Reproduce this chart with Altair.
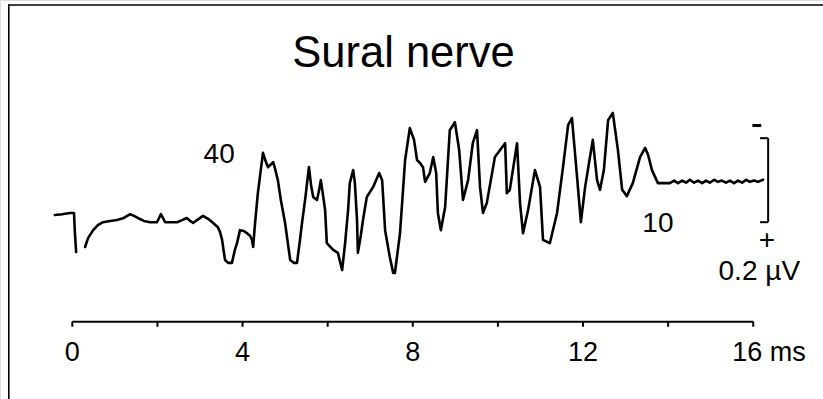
import altair as alt
import pandas as pd

# ---- trace data: time (ms) and amplitude (µV, upward = negative polarity) ----
pre_t = [-0.41, -0.24, -0.05, 0.04, 0.06, 0.09]
pre_v = [-0.081, -0.079, -0.076, -0.076, -0.121, -0.169]

main_t = [0.30, 0.37, 0.49, 0.60, 0.72, 0.89, 1.05, 1.21, 1.36, 1.45, 1.54, 1.68, 1.83, 1.99,
          2.04, 2.08, 2.13, 2.18, 2.32, 2.46, 2.58, 2.69, 2.77, 2.84, 2.93, 3.07, 3.19, 3.31,
          3.42, 3.47, 3.52, 3.56, 3.59, 3.66, 3.75, 3.82, 3.87, 3.94, 4.03, 4.10, 4.18, 4.22,
          4.25, 4.29, 4.36, 4.48, 4.55, 4.60, 4.72, 4.76, 4.83, 4.90, 5.00, 5.07, 5.12, 5.21,
          5.28, 5.35, 5.40, 5.47, 5.56, 5.61, 5.66, 5.75, 5.80, 5.84, 5.89, 5.94, 5.98, 6.13,
          6.24, 6.34, 6.41, 6.48, 6.52, 6.60, 6.64, 6.69, 6.71, 6.78, 6.83, 6.92, 7.07, 7.21,
          7.28, 7.35, 7.46, 7.54, 7.58, 7.70, 7.82, 7.93, 8.03, 8.10, 8.17, 8.24, 8.29, 8.40,
          8.48, 8.55, 8.59, 8.66, 8.76, 8.87, 8.99, 9.09, 9.18, 9.30, 9.41, 9.51, 9.58, 9.65,
          9.74, 9.93, 10.17, 10.21, 10.28, 10.45, 10.52, 10.59, 10.71, 10.87, 10.99, 11.06,
          11.22, 11.39, 11.53, 11.65, 11.74, 11.86, 11.95, 12.05, 12.16, 12.23, 12.33, 12.40,
          12.49, 12.59, 12.70, 12.82, 12.92, 13.03, 13.17, 13.34, 13.46, 13.53, 13.62, 13.76,
          13.90, 14.04, 14.14, 14.23, 14.33, 14.42, 14.51, 14.61, 14.70, 14.80, 14.89, 14.98,
          15.08, 15.17, 15.26, 15.36, 15.45, 15.55, 15.64, 15.74, 15.83, 15.92, 16.02, 16.11,
          16.23]
main_v = [-0.157, -0.136, -0.117, -0.105, -0.098, -0.095, -0.093, -0.088, -0.079, -0.083,
          -0.088, -0.095, -0.098, -0.098, -0.088, -0.079, -0.088, -0.098, -0.098, -0.098,
          -0.093, -0.088, -0.095, -0.100, -0.093, -0.083, -0.090, -0.100, -0.110, -0.121,
          -0.140, -0.169, -0.188, -0.195, -0.195, -0.164, -0.148, -0.117, -0.119, -0.124,
          -0.131, -0.140, -0.157, -0.105, -0.029, 0.067, 0.045, 0.033, 0.045, 0.031, 0.002,
          -0.045, -0.100, -0.152, -0.188, -0.195, -0.195, -0.140, -0.098, -0.045, 0.033,
          -0.010, -0.038, -0.045, -0.021, 0.002, -0.033, -0.069, -0.148, -0.164, -0.171,
          -0.212, -0.148, -0.069, -0.005, 0.026, -0.005, -0.093, -0.171, -0.129, -0.093,
          -0.038, -0.014, 0.019, 0.002, -0.117, -0.181, -0.219, -0.219, -0.124, 0.050, 0.126,
          0.098, 0.050, 0.043, 0.033, -0.002, 0.019, 0.057, 0.019, -0.076, -0.117, -0.062,
          0.121, 0.140, 0.074, -0.045, 0.002, 0.090, 0.121, -0.014, -0.076, -0.052, 0.057,
          0.090, -0.029, -0.021, 0.090, -0.052, -0.124, -0.069, 0.026, -0.014, -0.140, -0.148,
          -0.076, 0.033, 0.133, 0.150, 0.010, -0.098, -0.014, 0.055, 0.098, 0.002, -0.021,
          0.026, 0.145, 0.162, 0.074, -0.021, -0.036, -0.005, 0.057, 0.079, 0.062, 0.026,
          -0.005, -0.005, -0.005, 0.001, -0.005, 0.001, -0.004, 0.003, -0.004, 0.001, -0.005,
          0.001, -0.004, 0.003, -0.002, 0.001, -0.004, 0.001, -0.005, 0.001, -0.004, 0.003,
          -0.002, 0.001, -0.002, 0.003]

# ---- axis ----
tick_ms = [0, 2, 4, 6, 8, 10, 12, 14, 16]
label_ms = [0, 4, 8, 12]
label_txt = ["0", "4", "8", "12"]
last_label_ms = [16]
last_label_txt = ["16 ms"]

# ---- calibration bar (0.2 µV) and annotations ----
bar_bottom, bar_top = -0.098, 0.102
bar_t = 16.35
bar_tick_t = 16.16
title_txt = "Sural nerve"

F = "Liberation Sans"
xs = alt.Scale(domain=[-1.699, 17.639], nice=False, zero=False)
ys = alt.Scale(domain=[-0.519, 0.431], nice=False, zero=False)

trace = pd.DataFrame({
    "t": pre_t + main_t,
    "v": pre_v + main_v,
    "seg": ["a"] * len(pre_t) + ["b"] * len(main_t),
})

line = alt.Chart(trace).mark_line(color="black", strokeWidth=2.6, strokeJoin="round",
                                  strokeCap="round").encode(
    x=alt.X("t:Q", scale=xs, axis=None),
    y=alt.Y("v:Q", scale=ys, axis=None),
    detail="seg:N",
)

axis_y = -0.335
axis_df = pd.DataFrame({"t0": [0], "t1": [16], "v": [axis_y]})
axis_line = alt.Chart(axis_df).mark_rule(color="black", strokeWidth=2).encode(
    x=alt.X("t0:Q", scale=xs, axis=None), x2="t1:Q",
    y=alt.Y("v:Q", scale=ys, axis=None),
)
ticks_df = pd.DataFrame({"t": tick_ms, "v0": [axis_y] * len(tick_ms), "v1": [-0.347] * len(tick_ms)})
ticks = alt.Chart(ticks_df).mark_rule(color="black", strokeWidth=2).encode(
    x=alt.X("t:Q", scale=xs, axis=None),
    y=alt.Y("v0:Q", scale=ys, axis=None), y2="v1:Q",
)
lab_df = pd.DataFrame({"t": label_ms, "txt": label_txt, "v": [-0.429] * len(label_ms)})
labels = alt.Chart(lab_df).mark_text(font=F, fontSize=27, align="center", baseline="alphabetic",
                                     color="black").encode(
    x=alt.X("t:Q", scale=xs, axis=None),
    y=alt.Y("v:Q", scale=ys, axis=None),
    text="txt:N",
)
last_df = pd.DataFrame({"t": last_label_ms, "txt": last_label_txt, "v": [-0.429]})
last_lab = alt.Chart(last_df).mark_text(font=F, fontSize=27, align="left", baseline="alphabetic",
                                        dx=-21, color="black").encode(
    x=alt.X("t:Q", scale=xs, axis=None),
    y=alt.Y("v:Q", scale=ys, axis=None),
    text="txt:N",
)

bar_df = pd.DataFrame({"t": [bar_t], "v0": [bar_bottom], "v1": [bar_top]})
bar = alt.Chart(bar_df).mark_rule(color="black", strokeWidth=2).encode(
    x=alt.X("t:Q", scale=xs, axis=None),
    y=alt.Y("v0:Q", scale=ys, axis=None), y2="v1:Q",
)
bar_ends_df = pd.DataFrame({"t0": [bar_tick_t, bar_tick_t], "t1": [bar_t, bar_t], "v": [bar_bottom, bar_top]})
bar_ends = alt.Chart(bar_ends_df).mark_rule(color="black", strokeWidth=2).encode(
    x=alt.X("t0:Q", scale=xs, axis=None), x2="t1:Q",
    y=alt.Y("v:Q", scale=ys, axis=None),
)

ann_df = pd.DataFrame({
    "t": [3.45, 13.76, 16.32],
    "v": [0.043, -0.121, -0.161],
    "txt": ["40", "10", "+"],
})
ann = alt.Chart(ann_df).mark_text(font=F, fontSize=28, align="center", baseline="alphabetic",
                                  color="black").encode(
    x=alt.X("t:Q", scale=xs, axis=None),
    y=alt.Y("v:Q", scale=ys, axis=None),
    text="txt:N",
)
minus_df = pd.DataFrame({"t": [16.08], "v": [0.110], "txt": ["-"]})
minus = alt.Chart(minus_df).mark_text(font=F, fontSize=36, align="center", baseline="alphabetic",
                                      color="black").encode(
    x=alt.X("t:Q", scale=xs, axis=None),
    y=alt.Y("v:Q", scale=ys, axis=None),
    text="txt:N",
)
unit_df = pd.DataFrame({"t": [17.10], "v": [-0.236], "txt": ["0.2 µV"]})
unit = alt.Chart(unit_df).mark_text(font=F, fontSize=28, align="right", baseline="alphabetic",
                                    color="black").encode(
    x=alt.X("t:Q", scale=xs, axis=None),
    y=alt.Y("v:Q", scale=ys, axis=None),
    text="txt:N",
)

title_df = pd.DataFrame({"txt": [title_txt]})
title = alt.Chart(title_df).mark_text(font=F, fontSize=43.5, align="center", baseline="alphabetic",
                                      color="black").encode(
    x=alt.value(403.5), y=alt.value(66.7), text="txt:N",
)

frame_df = pd.DataFrame({"k": [0]})
frame_top = alt.Chart(frame_df).mark_rule(color="black", strokeWidth=1.6).encode(
    x=alt.value(8), x2=alt.value(823), y=alt.value(5),
)
frame_left = alt.Chart(frame_df).mark_rule(color="black", strokeWidth=1.6).encode(
    x=alt.value(8.8), y=alt.value(4.2), y2=alt.value(399),
)

chart = alt.layer(
    frame_top, frame_left, axis_line, ticks, labels, last_lab, bar, bar_ends, ann, minus, unit,
    title, line
).properties(
    width=823, height=399, padding=0, autosize=alt.AutoSizeParams(type="none")
).configure_view(stroke=None).configure(background="white")

chart.save("out.html", embed_options={"renderer": "svg", "actions": False})
